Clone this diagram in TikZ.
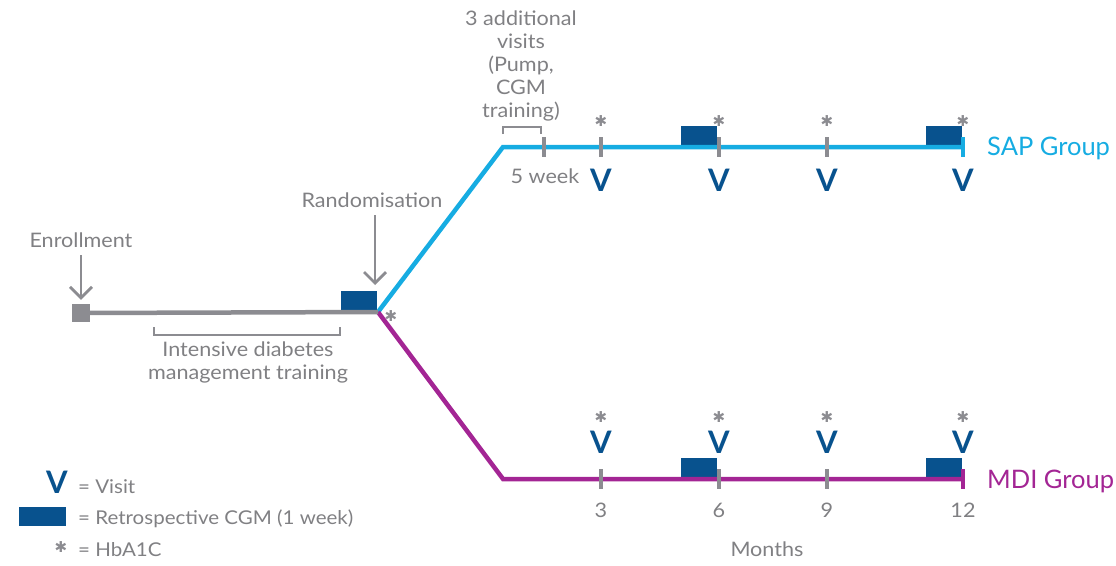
\documentclass[tikz,border=0pt]{standalone}
\usepackage{fontspec}
\setmainfont{Lato}[FakeStretch=1.08]
\newfontfamily\grpfont{Lato}
\newfontfamily\symfont{DejaVu Sans}
\usetikzlibrary{positioning,calc}
\usetikzlibrary{arrows.meta}
\definecolor{LineGray}{RGB}{140,140,145}
\definecolor{TextGray}{RGB}{128,128,131}
\definecolor{SapCyan}{RGB}{22,172,226}
\definecolor{MdiPurple}{RGB}{163,37,148}
\definecolor{CgmBlue}{RGB}{8,82,142}
\tikzset{
	track/.style={line width=4.5pt},
	tick/.style={fill=LineGray,minimum width=4pt,minimum height=20pt,inner sep=0pt},
	cgm/.style={fill=CgmBlue,minimum width=36pt,minimum height=20pt,inner sep=0pt,anchor=south west},
	visit/.style={text=CgmBlue,font=\grpfont\fontsize{31}{31}\selectfont\bfseries,inner sep=0pt},
	hba/.style={text=LineGray,font=\symfont\fontsize{15}{15}\selectfont,inner sep=0pt},
	lbl/.style={text=TextGray,font=\fontsize{20}{23}\selectfont,inner sep=0pt,align=center},
	leg/.style={lbl,font=\fontsize{19}{23}\selectfont,anchor=base west},
	grp/.style={font=\grpfont\fontsize{25.5}{26}\selectfont,inner sep=0pt,anchor=base west},
	pointer/.style={draw=LineGray,line width=2.7pt,-{Straight Barb[length=11pt,width=22pt]}},
	brace/.style={draw=LineGray,line width=1.5pt},
}
\begin{document}
\begin{tikzpicture}[x=1pt,y=-1pt]
	\useasboundingbox (0,0) rectangle (1116,565);
	\coordinate (enr) at (81,313);
	\coordinate (rand) at (378,312);
	\coordinate (randtip) at (375,285);
	\coordinate (sapknee) at (503,147);
	\coordinate (sapend) at (963,147);
	\coordinate (mdiknee) at (503,479);
	\coordinate (mdiend) at (963,479);
	\node[cgm] (cgm0) at (341,311) {};
	\node[cgm] (cgms6) at (681,146) {};
	\node[cgm] (cgms12) at (926,146) {};
	\node[cgm] (cgmm6) at (681,478) {};
	\node[cgm] (cgmm12) at (926,478) {};
	\draw[track,SapCyan] (rand) -- (sapknee) -- (sapend);
	\draw[track,MdiPurple] (rand) -- (mdiknee) -- (mdiend);
	\node[fill=LineGray,minimum size=18pt,inner sep=0pt] (enrbox) at (enr) {};
	\draw[track,LineGray] (enrbox.center) -- (rand);
	\node[tick,fill=SapCyan] (sap12) at (sapend) {};
	\node[tick,fill=MdiPurple] (mdi12) at (mdiend) {};
	\node[tick] (sapwk5) at (544,147) {};
	\foreach \x in {601,719,827} {
		\node[tick] (sapt\x) at (\x,147) {};
		\node[tick] (mdit\x) at (\x,479) {};
	}
	\foreach \x in {601,719,827,963} {
		\node[visit] (sapv\x) at (\x,180) {V};
		\node[visit] (mdiv\x) at (\x,442) {V};
		\node[hba] (saph\x) at (\x,121) {✱};
		\node[hba] (mdih\x) at (\x,417) {✱};
	}
	\node[hba] (randh) at (391,316) {✱};
	\node[lbl,anchor=base] (enrlbl) at (81,247) {Enrollment};
	\node[lbl,anchor=base] (randlbl) at (372,207) {Randomisation};
	\draw[pointer] (enrlbl.south -| enrbox) ++(0,8) -- ([yshift=4pt]enrbox.north);
	\draw[pointer] (randtip |- randlbl.south) ++(0,8) -- (randtip);
	\draw[brace] (154,327) |- (340,335) -- (340,327);
	\node[lbl,anchor=north] (trainlbl) at (248,342) {Intensive diabetes\\management training};
	\draw[brace] (503,134) |- (541,127) -- (541,134);
	\node[lbl,anchor=north] (extralbl) at (521,11) {3 additional\\visits\\(Pump,\\CGM\\training)};
	\node[lbl,anchor=base] (wk5lbl) at (545,183) {5 week};
	\foreach \x/\m in {601/3,719/6,827/9,963/12}
		\node[lbl,anchor=base] (mon\m) at (\x,517) {\m};
	\node[lbl,anchor=base] (monlbl) at (767,556) {Months};
	\node[grp,text=SapCyan] (saplbl) at (987,155) {SAP Group};
	\node[grp,text=MdiPurple] (mdilbl) at (987,488) {MDI Group};
	\node[visit] (legv) at (57,482) {V};
	\node[leg] (legvt) at (78,493) {= Visit};
	\node[cgm,anchor=center,minimum width=47pt,minimum height=19pt] (legcgm) at (42.5,516.5) {};
	\node[leg] (legcgmt) at (78,524) {= Retrospective CGM (1 week)};
	\node[hba] (legh) at (61,547) {✱};
	\node[leg] (leght) at (78,556) {= HbA1C};
\end{tikzpicture}
\end{document}
